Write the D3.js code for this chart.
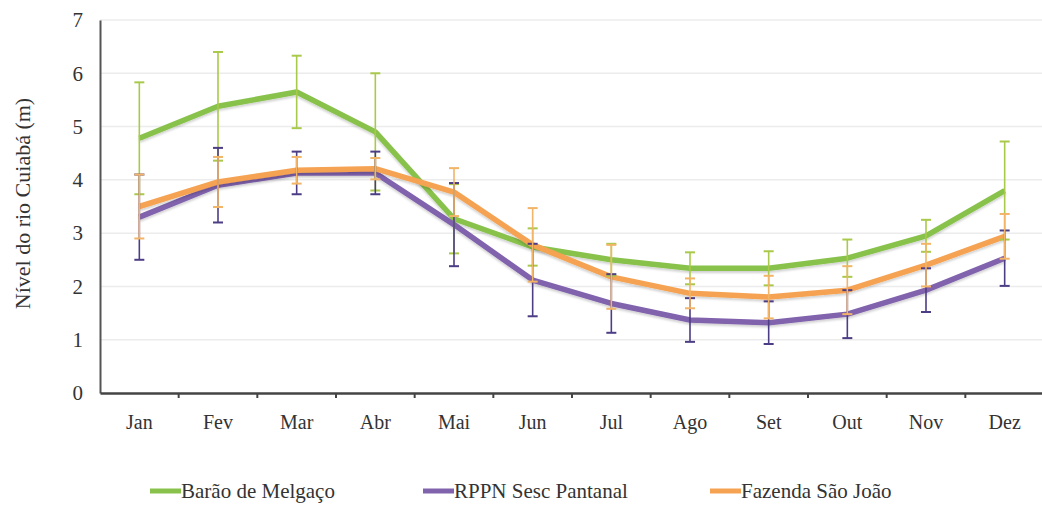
<!DOCTYPE html>
<html>
<head>
<meta charset="utf-8">
<script src="https://cdn.jsdelivr.net/npm/d3@7"></script>
<style>
  body { margin: 0; background: #fff; }
  svg { display: block; }
  text { font-family: "Liberation Serif", "DejaVu Serif", "Times New Roman", serif !important; fill: #333; }
</style>
</head>
<body>
<div id="grafico"></div>
<script>
// meses e valores
var meses = ["Jan","Fev","Mar","Abr","Mai","Jun","Jul","Ago","Set","Out","Nov","Dez"];
var yTicks = [0,1,2,3,4,5,6,7];
var barao = [4.78,5.38,5.65,4.9,3.27,2.74,2.5,2.34,2.34,2.53,2.95,3.8];
var baraoErr = [1.05,1.02,0.68,1.1,0.65,0.35,0.3,0.3,0.32,0.35,0.3,0.92];
var rppn = [3.3,3.9,4.13,4.13,3.16,2.12,1.68,1.37,1.32,1.48,1.93,2.53];
var rppnErr = [0.8,0.7,0.4,0.4,0.78,0.68,0.55,0.41,0.4,0.45,0.41,0.52];
var fazenda = [3.5,3.96,4.18,4.21,3.77,2.78,2.18,1.87,1.8,1.93,2.4,2.94];
var fazendaErr = [0.6,0.47,0.25,0.2,0.45,0.69,0.6,0.28,0.4,0.45,0.4,0.42];
var nomes = ["Barão de Melgaço","RPPN Sesc Pantanal","Fazenda São João"];

var series = [
  {nome: nomes[0], v: barao, e: baraoErr, cor: "#88c24c", corErr: "#a9c94a"},
  {nome: nomes[1], v: rppn, e: rppnErr, cor: "#8062ad", corErr: "#4d3d85"},
  {nome: nomes[2], v: fazenda, e: fazendaErr, cor: "#f5a352", corErr: "#f2b466"}
];

var W = 1042, H = 512;
var margin = {top: 20, left: 100, right: -2, bottom: 119};
var ancho = W - margin.left - margin.right;
var alto = H - margin.top - margin.bottom;
var fonte = "'Liberation Serif', 'DejaVu Serif', serif";

var svg1 = d3.select("#grafico").append("svg")
  .attr("width", W).attr("height", H)
  .attr("font-family", fonte);

var defs = svg1.append("defs");
var f = defs.append("filter").attr("id", "sombra")
  .attr("x", "-5%").attr("y", "-20%").attr("width", "110%").attr("height", "140%");
f.append("feDropShadow").attr("dx", 0).attr("dy", 2).attr("stdDeviation", 1.2)
  .attr("flood-color", "#000").attr("flood-opacity", 0.18);

var svg = svg1.append("g").attr("transform", "translate(" + margin.left + "," + margin.top + ")");

var x = d3.scaleBand().domain(meses).range([0, ancho]);
var y = d3.scaleLinear().domain([0, 7]).range([alto, 0]);

// grade
svg.append("g").selectAll("line").data(yTicks.slice(1)).enter().append("line")
  .attr("x1", 0).attr("x2", ancho)
  .attr("y1", d => y(d)).attr("y2", d => y(d))
  .attr("stroke", "#ececec").attr("stroke-width", 1.5);

// eixo Y
var ejeY = svg.append("g")
  .call(d3.axisLeft(y).tickValues(yTicks).tickSize(0).tickPadding(17).tickFormat(d3.format("d")));
ejeY.attr("font-family", fonte);
ejeY.select("path").attr("stroke", "#555").attr("stroke-width", 2);
ejeY.selectAll("text").style("font-size", "21px").attr("fill", "#333");

// eixo X
var ejeX = svg.append("g").attr("transform", "translate(0," + alto + ")")
  .call(d3.axisBottom(x).tickSize(0).tickPadding(22));
ejeX.attr("font-family", fonte);
ejeX.select("path").attr("stroke", "#444").attr("stroke-width", 2.5);
ejeX.selectAll("text").style("font-size", "20px").attr("fill", "#333");
ejeX.append("g").selectAll("line").data(meses.slice(1)).enter().append("line")
  .attr("x1", d => x(d)).attr("x2", d => x(d))
  .attr("y1", 0).attr("y2", 5)
  .attr("stroke", "#444").attr("stroke-width", 2);

// rótulo do eixo Y
svg1.append("text")
  .attr("transform", "translate(30," + (margin.top + alto / 2 - 3) + ") rotate(-90)")
  .attr("text-anchor", "middle")
  .style("font-size", "22px")
  .text("Nível do rio Cuiabá (m)");

var cx = d => x(d) + x.bandwidth() / 2;
var linha = d3.line().x((d, i) => cx(meses[i])).y(d => y(d));

series.forEach(function(s) {
  var g = svg.append("g");
  g.append("path").datum(s.v)
    .attr("d", linha)
    .attr("fill", "none")
    .attr("stroke", s.cor)
    .attr("stroke-width", 5.5)
    .attr("stroke-linejoin", "round")
    .attr("filter", "url(#sombra)");
});

// barras de erro
series.forEach(function(s) {
  var g = svg.append("g");
  var dados = s.v.map((v, i) => ({m: meses[i], v: v, e: s.e[i]}));
  g.selectAll(".vert").data(dados).enter().append("line")
    .attr("x1", d => cx(d.m)).attr("x2", d => cx(d.m))
    .attr("y1", d => y(d.v + d.e)).attr("y2", d => y(d.v - d.e))
    .attr("stroke", s.corErr).attr("stroke-width", 1.6);
  [1, -1].forEach(function(sg) {
    g.selectAll(".cap").data(dados).enter().append("line")
      .attr("x1", d => cx(d.m) - 5).attr("x2", d => cx(d.m) + 5)
      .attr("y1", d => y(d.v + sg * d.e)).attr("y2", d => y(d.v + sg * d.e))
      .attr("stroke", s.corErr).attr("stroke-width", 2);
  });
});

// legenda
var legX = [150, 423, 710];
var leg = svg1.append("g").attr("transform", "translate(0,491)");
series.forEach(function(s, i) {
  leg.append("line")
    .attr("x1", legX[i]).attr("x2", legX[i] + 31)
    .attr("y1", 0).attr("y2", 0)
    .attr("stroke", s.cor).attr("stroke-width", 5);
  leg.append("text")
    .attr("x", legX[i] + 31).attr("y", 7)
    .style("font-size", "21px")
    .text(s.nome);
});
</script>
</body>
</html>
